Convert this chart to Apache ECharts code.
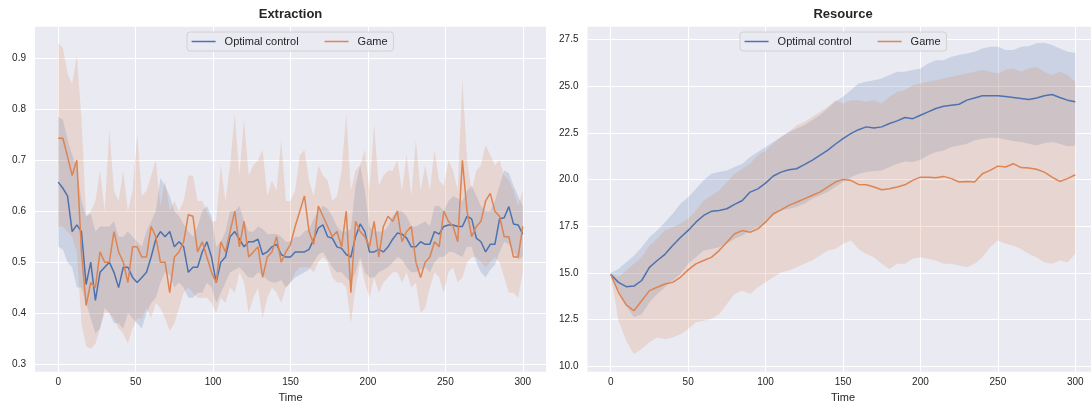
<!DOCTYPE html>
<html>
<head>
<meta charset="utf-8">
<title>Extraction / Resource</title>
<script src="https://cdn.jsdelivr.net/npm/echarts@6/dist/echarts.min.js"></script>
<style>
  html, body { margin: 0; padding: 0; background: #fff; }
  #chart { width: 1091px; height: 405px; }
</style>
</head>
<body>
<div id="chart"></div>
<script>
// sample times (left panel read every 3 steps, right panel every 5)
const timeL = [];
for (let t = 0; t <= 300; t += 3) timeL.push(t);
const timeR = [];
for (let t = 0; t <= 300; t += 5) timeR.push(t);

const xTicks = [0, 50, 100, 150, 200, 250, 300];
const extractionTicks = [0.3, 0.4, 0.5, 0.6, 0.7, 0.8, 0.9];
const resourceTicks = [10, 12.5, 15, 17.5, 20, 22.5, 25, 27.5];

// Extraction - optimal control (mean, lower, upper)
const ocMeanL = [
  0.657, 0.645, 0.63, 0.56, 0.573, 0.56, 0.456, 0.50, 0.425, 0.48,
  0.49, 0.50, 0.48, 0.45, 0.49, 0.49, 0.47, 0.46, 0.47, 0.48,
  0.51, 0.545, 0.56, 0.55, 0.56, 0.53, 0.54, 0.53, 0.48, 0.49,
  0.49, 0.52, 0.54, 0.51, 0.46, 0.50, 0.51, 0.55, 0.56, 0.545,
  0.53, 0.54, 0.54, 0.545, 0.515, 0.52, 0.53, 0.535, 0.515, 0.51,
  0.51, 0.52, 0.52, 0.52, 0.525, 0.545, 0.567, 0.573, 0.55, 0.547,
  0.53, 0.527, 0.515, 0.51, 0.55, 0.575, 0.56, 0.52, 0.52, 0.525,
  0.52, 0.53, 0.545, 0.557, 0.555, 0.547, 0.53, 0.53, 0.54, 0.535,
  0.535, 0.56, 0.555, 0.57, 0.573, 0.573, 0.57, 0.57, 0.59, 0.585,
  0.547, 0.54, 0.52, 0.535, 0.535, 0.585, 0.587, 0.609, 0.575, 0.573,
  0.555
];
const ocLowL = [
  0.53, 0.525, 0.50, 0.49, 0.45, 0.45, 0.42, 0.39, 0.36, 0.37,
  0.41, 0.40, 0.38, 0.38, 0.37, 0.40, 0.39, 0.38, 0.37, 0.40,
  0.42, 0.43, 0.46, 0.48, 0.475, 0.45, 0.46, 0.45, 0.43, 0.43,
  0.44, 0.44, 0.46, 0.45, 0.42, 0.44, 0.46, 0.48, 0.485, 0.49,
  0.48, 0.47, 0.47, 0.48, 0.475, 0.465, 0.46, 0.46, 0.465, 0.45,
  0.46, 0.47, 0.475, 0.48, 0.485, 0.50, 0.515, 0.52, 0.505, 0.49,
  0.48, 0.48, 0.47, 0.46, 0.48, 0.51, 0.48, 0.47, 0.47, 0.48,
  0.485, 0.49, 0.50, 0.51, 0.505, 0.49, 0.48, 0.48, 0.485, 0.49,
  0.48, 0.50, 0.51, 0.51, 0.52, 0.52, 0.515, 0.51, 0.53, 0.53,
  0.50, 0.48, 0.47, 0.485, 0.495, 0.52, 0.54, 0.535, 0.52, 0.505,
  0.51
];
const ocHighL = [
  0.785, 0.78, 0.74, 0.71, 0.685, 0.62, 0.59, 0.595, 0.56, 0.57,
  0.57, 0.57, 0.58, 0.55, 0.55, 0.56, 0.55, 0.54, 0.53, 0.56,
  0.58, 0.60, 0.665, 0.65, 0.63, 0.60, 0.59, 0.575, 0.56, 0.55,
  0.57, 0.60, 0.61, 0.59, 0.53, 0.54, 0.56, 0.60, 0.60, 0.61,
  0.58, 0.56, 0.56, 0.57, 0.565, 0.555, 0.555, 0.555, 0.55, 0.54,
  0.54, 0.55, 0.55, 0.56, 0.565, 0.585, 0.60, 0.61, 0.605, 0.59,
  0.57, 0.56, 0.56, 0.565, 0.65, 0.69, 0.64, 0.57, 0.56, 0.56,
  0.56, 0.57, 0.59, 0.60, 0.60, 0.59, 0.57, 0.57, 0.575, 0.58,
  0.57, 0.61, 0.61, 0.60, 0.62, 0.63, 0.625, 0.62, 0.64, 0.65,
  0.63, 0.61, 0.60, 0.60, 0.62, 0.65, 0.68, 0.675, 0.65, 0.63,
  0.61
];

// Extraction - game (mean, lower, upper)
const gmMeanL = [
  0.743, 0.743, 0.707, 0.67, 0.70, 0.52, 0.415, 0.46, 0.45, 0.52,
  0.50, 0.50, 0.56, 0.52, 0.50, 0.46, 0.53, 0.53, 0.51, 0.51,
  0.57, 0.55, 0.50, 0.50, 0.44, 0.51, 0.52, 0.54, 0.593, 0.59,
  0.52, 0.54, 0.51, 0.48, 0.46, 0.54, 0.52, 0.56, 0.60, 0.53,
  0.58, 0.51, 0.52, 0.53, 0.47, 0.51, 0.52, 0.55, 0.50, 0.52,
  0.535, 0.57, 0.60, 0.63, 0.56, 0.535, 0.61, 0.59, 0.57, 0.55,
  0.56, 0.53, 0.60, 0.44, 0.58, 0.56, 0.55, 0.53, 0.58, 0.51,
  0.57, 0.59, 0.58, 0.60, 0.54, 0.56, 0.57, 0.50, 0.47, 0.50,
  0.51, 0.54, 0.53, 0.60, 0.58, 0.57, 0.54, 0.70, 0.60, 0.55,
  0.57, 0.58, 0.62, 0.635, 0.60, 0.59, 0.55, 0.55, 0.51, 0.51,
  0.57
];
const gmLowL = [
  0.57, 0.57, 0.56, 0.55, 0.52, 0.38, 0.335, 0.33, 0.34, 0.37,
  0.40, 0.40, 0.39, 0.37, 0.36, 0.34, 0.37, 0.39, 0.39, 0.41,
  0.39, 0.42, 0.41, 0.39, 0.365, 0.38, 0.41, 0.44, 0.45, 0.44,
  0.43, 0.43, 0.43, 0.42, 0.40, 0.43, 0.42, 0.45, 0.44, 0.48,
  0.46, 0.40, 0.43, 0.45, 0.39, 0.43, 0.45, 0.44, 0.42, 0.45,
  0.46, 0.48, 0.49, 0.49, 0.49, 0.48, 0.50, 0.51, 0.50, 0.47,
  0.46, 0.46, 0.45, 0.38, 0.45, 0.50, 0.46, 0.43, 0.47, 0.44,
  0.46, 0.47, 0.48, 0.48, 0.46, 0.48, 0.45, 0.46, 0.40, 0.41,
  0.45, 0.48, 0.47, 0.44, 0.48, 0.49, 0.46, 0.47, 0.50, 0.51,
  0.51, 0.50, 0.49, 0.50, 0.51, 0.50, 0.47, 0.44, 0.44, 0.43,
  0.48
];
const gmHighL = [
  0.93, 0.92, 0.87, 0.85, 0.905, 0.78, 0.59, 0.60, 0.62, 0.68,
  0.60, 0.76, 0.64, 0.62, 0.68, 0.60, 0.64, 0.75, 0.63, 0.64,
  0.67, 0.70, 0.61, 0.66, 0.60, 0.62, 0.60, 0.62, 0.67, 0.67,
  0.62, 0.62, 0.60, 0.58, 0.58, 0.69, 0.62, 0.69, 0.79, 0.67,
  0.78, 0.67, 0.69, 0.70, 0.72, 0.63, 0.66, 0.64, 0.74, 0.62,
  0.62, 0.64, 0.71, 0.72, 0.66, 0.63, 0.69, 0.67, 0.66, 0.62,
  0.63, 0.68, 0.79, 0.64, 0.68, 0.69, 0.72, 0.64, 0.77, 0.65,
  0.67, 0.68, 0.68, 0.70, 0.64, 0.71, 0.63, 0.74, 0.64, 0.69,
  0.64, 0.72, 0.66, 0.65, 0.70, 0.68, 0.64, 0.86, 0.70, 0.64,
  0.68, 0.69, 0.73, 0.71, 0.69, 0.70, 0.67, 0.66, 0.64, 0.61,
  0.64
];

// Resource - optimal control (mean, lower, upper)
const ocMeanR = [
  14.92, 14.5, 14.27, 14.3, 14.6, 15.3, 15.67, 16.0, 16.47, 16.9,
  17.28, 17.72, 18.08, 18.3, 18.35, 18.44, 18.67, 18.88, 19.33, 19.5,
  19.81, 20.19, 20.4, 20.53, 20.58, 20.8, 21.03, 21.3, 21.56, 21.89,
  22.19, 22.46, 22.67, 22.82, 22.76, 22.82, 23.0, 23.14, 23.32, 23.26,
  23.44, 23.62, 23.8, 23.92, 23.98, 24.03, 24.25, 24.37, 24.48, 24.48,
  24.48, 24.44, 24.39, 24.34, 24.28, 24.37, 24.48, 24.55, 24.39, 24.25,
  24.17
];
const ocLowR = [
  14.9, 14.06, 13.25, 12.63, 12.8, 13.43, 13.88, 14.24, 14.6, 14.95,
  15.49, 15.84, 16.2, 16.29, 16.38, 16.56, 16.83, 17.01, 17.27, 17.45,
  17.72, 18.08, 18.35, 18.44, 18.53, 18.7, 18.97, 19.15, 19.33, 19.6,
  19.87, 20.13, 20.31, 20.4, 20.46, 20.49, 20.67, 20.85, 20.97, 20.94,
  21.06, 21.3, 21.47, 21.56, 21.74, 21.83, 21.92, 22.1, 22.19, 22.24,
  22.24, 22.14, 22.07, 22.01, 21.92, 21.83, 21.96, 22.01, 21.92, 21.78,
  21.83
];
const ocHighR = [
  15.0, 15.22, 15.58, 15.93, 16.38, 16.92, 17.27, 17.72, 18.17, 18.7,
  19.06, 19.5, 19.96, 20.31, 20.4, 20.49, 20.67, 20.85, 21.21, 21.47,
  21.74, 22.01, 22.28, 22.55, 22.73, 22.91, 23.17, 23.44, 23.8, 24.16,
  24.43, 24.78, 25.14, 25.23, 25.32, 25.41, 25.59, 25.77, 25.77, 25.86,
  25.94, 26.21, 26.39, 26.39, 26.57, 26.66, 26.75, 26.84, 27.02, 27.11,
  27.11, 26.93, 26.93, 27.11, 27.14, 27.29, 27.32, 27.2, 27.02, 26.84,
  26.78
];

// Resource - game (mean, lower, upper)
const gmMeanR = [
  14.92, 13.97, 13.3, 12.98, 13.52, 14.06, 14.24, 14.41, 14.5, 14.77,
  15.17, 15.49, 15.67, 15.84, 16.2, 16.65, 17.1, 17.27, 17.18, 17.36,
  17.72, 18.17, 18.38, 18.62, 18.79, 18.97, 19.15, 19.33, 19.6, 19.87,
  20.01, 19.96, 19.74, 19.72, 19.6, 19.46, 19.51, 19.6, 19.72, 19.96,
  20.13, 20.13, 20.1, 20.17, 20.05, 19.87, 19.9, 19.87, 20.31, 20.49,
  20.72, 20.67, 20.85, 20.64, 20.62, 20.55, 20.4, 20.13, 19.9, 20.05,
  20.26
];
const gmLowR = [
  14.9, 12.45, 11.38, 10.66, 10.93, 11.29, 11.55, 11.46, 11.55, 11.73,
  12.0, 12.36, 12.45, 12.54, 12.8, 13.34, 13.88, 14.06, 13.88, 14.24,
  14.5, 14.77, 15.04, 15.13, 15.31, 15.49, 15.67, 15.93, 16.2, 16.29,
  16.56, 16.74, 16.29, 16.02, 15.84, 15.49, 15.22, 15.49, 15.49, 15.76,
  15.84, 15.76, 15.67, 15.49, 15.49, 15.4, 15.31, 15.49, 15.84, 16.38,
  16.74, 16.56, 16.47, 16.29, 16.02, 15.84, 15.58, 15.49, 15.67, 15.58,
  16.02
];
const gmHighR = [
  15.0, 14.77, 15.13, 15.49, 15.84, 16.47, 16.83, 17.27, 17.45, 17.63,
  17.9, 18.35, 18.88, 19.15, 19.42, 19.87, 20.31, 20.58, 20.85, 21.3,
  21.56, 21.92, 22.28, 22.55, 22.91, 23.08, 23.35, 23.62, 23.89, 24.25,
  24.07, 24.25, 24.25, 24.16, 24.25, 24.07, 24.43, 24.69, 24.78, 25.05,
  25.14, 25.23, 25.32, 25.41, 25.5, 25.59, 25.68, 25.77, 25.86, 25.77,
  25.68, 25.86, 25.94, 25.77, 25.94, 26.03, 25.77, 25.59, 25.77, 25.59,
  25.23
];

const BLUE = "#4c72b0";
const ORANGE = "#dd8452";
const BLUE_BAND = "rgba(76, 114, 176, 0.2)";
const ORANGE_BAND = "rgba(221, 132, 82, 0.2)";
const FONT = "'Liberation Sans', Arial, sans-serif";
const TEXT = "#262626";

function pairs(time, vals) {
  return time.map((t, i) => [t, vals[i]]);
}

// confidence band drawn as one polygon, points placed with api.coord
function band(time, low, high, fill, idx) {
  return {
    type: "custom", xAxisIndex: idx, yAxisIndex: idx,
    silent: true, z: 1,
    encode: { x: 0, y: [1, 2] },
    data: time.map((t, i) => [t, low[i], high[i]]),
    renderItem: function (params, api) {
      if (params.dataIndex !== 0) return null;
      const top = time.map((t, i) => api.coord([t, high[i]]));
      const bottom = time.map((t, i) => api.coord([t, low[i]])).reverse();
      return {
        type: "polygon",
        shape: { points: top.concat(bottom) },
        style: { fill: fill, stroke: null }
      };
    }
  };
}

function meanLine(name, time, vals, color, idx) {
  return {
    name: name, type: "line", xAxisIndex: idx, yAxisIndex: idx,
    symbol: "none", z: 3,
    lineStyle: { color: color, width: 1.5 },
    itemStyle: { color: color },
    emphasis: { disabled: true },
    data: pairs(time, vals)
  };
}

function legendAt(left) {
  return {
    left: left, top: 32,
    data: ["Optimal control", "Game"],
    icon: "rect", itemWidth: 24, itemHeight: 1.5, itemGap: 26,
    padding: [4, 6, 4, 4.6],
    backgroundColor: "#eaeaf2",
    borderColor: "#cccccc", borderWidth: 0.8, borderRadius: 3,
    selectedMode: false,
    textStyle: { fontSize: 11, color: TEXT, fontFamily: FONT, padding: [0, 0, 0, 4] }
  };
}

function xAxisFor(idx) {
  return {
    gridIndex: idx, type: "value", min: -15, max: 315,
    name: "Time", nameLocation: "middle", nameGap: 19,
    nameTextStyle: { fontSize: 11, color: TEXT, fontFamily: FONT },
    axisLine: { show: false },
    axisTick: { show: false, customValues: xTicks },
    axisLabel: { customValues: xTicks, fontSize: 10, color: TEXT, fontFamily: FONT, margin: 6 },
    splitLine: { show: true, lineStyle: { color: "#ffffff", width: 1 } }
  };
}

function yAxisFor(idx, min, max, ticks, fmt) {
  return {
    gridIndex: idx, type: "value", min: min, max: max,
    axisLine: { show: false },
    axisTick: { show: false, customValues: ticks },
    axisLabel: { customValues: ticks, fontSize: 10, color: TEXT, fontFamily: FONT, margin: 9, formatter: fmt },
    splitLine: { show: true, lineStyle: { color: "#ffffff", width: 1 } }
  };
}

const chart = echarts.init(document.getElementById("chart"));
chart.setOption({
  animation: false,
  backgroundColor: "#ffffff",
  title: [
    { text: "Extraction", left: 290.5, top: 8, textAlign: "center", padding: 0,
      textStyle: { fontSize: 13, fontWeight: "bold", color: TEXT, fontFamily: FONT } },
    { text: "Resource", left: 843, top: 8, textAlign: "center", padding: 0,
      textStyle: { fontSize: 13, fontWeight: "bold", color: TEXT, fontFamily: FONT } }
  ],
  legend: [legendAt(187), legendAt(740)],
  grid: [
    { left: 35, top: 26.7, width: 511, height: 345, show: true, backgroundColor: "#eaeaf2", borderWidth: 0, outerBoundsMode: "none" },
    { left: 587.5, top: 26.7, width: 511, height: 345, show: true, backgroundColor: "#eaeaf2", borderWidth: 0, outerBoundsMode: "none" }
  ],
  xAxis: [xAxisFor(0), xAxisFor(1)],
  yAxis: [
    yAxisFor(0, 0.285, 0.962, extractionTicks, v => v.toFixed(1)),
    yAxisFor(1, 9.72, 28.18, resourceTicks, v => v.toFixed(1))
  ],
  series: [
    band(timeL, ocLowL, ocHighL, BLUE_BAND, 0),
    band(timeL, gmLowL, gmHighL, ORANGE_BAND, 0),
    band(timeR, ocLowR, ocHighR, BLUE_BAND, 1),
    band(timeR, gmLowR, gmHighR, ORANGE_BAND, 1),
    meanLine("Optimal control", timeL, ocMeanL, BLUE, 0),
    meanLine("Game", timeL, gmMeanL, ORANGE, 0),
    meanLine("Optimal control", timeR, ocMeanR, BLUE, 1),
    meanLine("Game", timeR, gmMeanR, ORANGE, 1)
  ]
});
</script>
</body>
</html>
